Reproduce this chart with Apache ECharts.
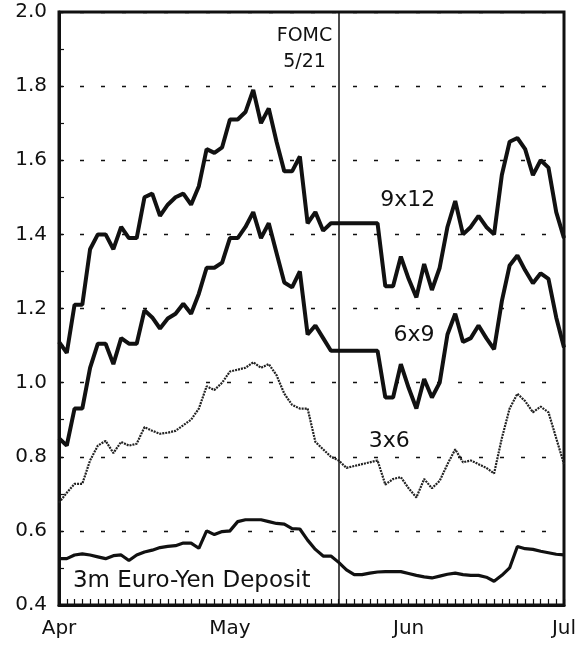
<!DOCTYPE html>
<html>
<head>
<meta charset="utf-8">
<style>
  html, body { margin: 0; padding: 0; background: #fff; }
  #chart { width: 581px; height: 645px; }
</style>
<script src="https://cdn.jsdelivr.net/npm/echarts@6/dist/echarts.min.js"></script>
</head>
<body>
<div id="chart"></div>
<script>
// x = business day index: 0 = Apr 1, 22 = May 1, 45 = Jun 3, 65 = Jul 1
const monthNames = ['Apr', 'May', 'Jun', 'Jul'];
const monthStarts = [0, 22, 45, 65];
const fomcDay = 36; // 5/21

const rate9x12 = [1.11, 1.08, 1.21, 1.21, 1.36, 1.40, 1.40, 1.36, 1.42, 1.39,
    1.39, 1.50, 1.51, 1.45, 1.48, 1.50, 1.51, 1.48, 1.53, 1.63,
    1.62, 1.635, 1.71, 1.71, 1.73, 1.79, 1.70, 1.74, 1.65, 1.57,
    1.57, 1.61, 1.43, 1.46, 1.41, 1.43, 1.43, 1.43, 1.43, 1.43,
    1.43, 1.43, 1.26, 1.26, 1.34, 1.28, 1.23, 1.32, 1.25, 1.31,
    1.42, 1.49, 1.40, 1.42, 1.45, 1.42, 1.40, 1.56, 1.65, 1.66,
    1.63, 1.56, 1.60, 1.58, 1.46, 1.39];

const rate6x9 = [0.85, 0.83, 0.93, 0.93, 1.04, 1.105, 1.105, 1.05, 1.12, 1.105,
    1.105, 1.195, 1.176, 1.146, 1.173, 1.186, 1.213, 1.186, 1.24, 1.31,
    1.31, 1.324, 1.39, 1.39, 1.42, 1.46, 1.39, 1.43, 1.35, 1.27,
    1.257, 1.30, 1.13, 1.154, 1.12, 1.086, 1.086, 1.086, 1.086, 1.086,
    1.086, 1.086, 0.96, 0.96, 1.05, 0.986, 0.93, 1.01, 0.96, 1.0,
    1.13, 1.186, 1.11, 1.12, 1.154, 1.12, 1.09, 1.22, 1.316, 1.343,
    1.303, 1.268, 1.295, 1.28, 1.176, 1.095];

const rate3x6 = [0.676, 0.703, 0.727, 0.727, 0.79, 0.83, 0.843, 0.81, 0.84, 0.83,
    0.835, 0.88, 0.87, 0.862, 0.865, 0.87, 0.885, 0.90, 0.93, 0.99,
    0.98, 1.0, 1.03, 1.035, 1.04, 1.055, 1.04, 1.05, 1.02, 0.97,
    0.94, 0.93, 0.93, 0.84, 0.82, 0.80, 0.79, 0.77, 0.775, 0.78,
    0.785, 0.79, 0.725, 0.74, 0.745, 0.715, 0.69, 0.74, 0.715, 0.735,
    0.78, 0.82, 0.785, 0.79, 0.78, 0.77, 0.755, 0.85, 0.93, 0.97,
    0.95, 0.92, 0.935, 0.92, 0.85, 0.78];

const deposit3m = [0.525, 0.525, 0.535, 0.538, 0.535, 0.53, 0.525, 0.533, 0.535, 0.52,
    0.535, 0.543, 0.548, 0.555, 0.558, 0.56, 0.567, 0.567, 0.553, 0.60,
    0.59, 0.598, 0.60, 0.625, 0.63, 0.63, 0.63, 0.625, 0.62, 0.618,
    0.606, 0.605, 0.575, 0.55, 0.532, 0.532, 0.515, 0.495, 0.482, 0.482,
    0.486, 0.489, 0.49, 0.49, 0.49, 0.485, 0.48, 0.476, 0.473, 0.478,
    0.483, 0.486, 0.482, 0.48, 0.48, 0.475, 0.464, 0.48, 0.50, 0.558,
    0.552, 0.55, 0.545, 0.541, 0.537, 0.535];

const FONT = 'DejaVu Sans';

function toPoints(values) {
    return values.map((v, i) => [i, v]);
}

function textMark(name, x, y, extra) {
    return {
        name: name,
        coord: [x, y],
        symbolSize: 0,
        label: Object.assign({
            show: true,
            position: 'inside',
            formatter: '{b}',
            color: '#111',
            fontFamily: FONT,
            fontSize: 22
        }, extra || {})
    };
}

function lineSeries(name, values, width, type, color, marks) {
    return {
        name: name,
        type: 'line',
        data: toPoints(values),
        symbol: 'none',
        silent: true,
        lineStyle: { color: color, width: width, type: type },
        markPoint: marks ? { silent: true, symbol: 'circle', data: marks } : undefined
    };
}

const chart = echarts.init(document.getElementById('chart'), null, { renderer: 'canvas' });

const series = [
    lineSeries('3m Euro-Yen Deposit', deposit3m, 3.2, 'solid', '#111', [
        textMark('3m Euro-Yen Deposit', 1.8, 0.465, { align: 'left', fontSize: 23 })
    ]),
    lineSeries('3x6', rate3x6, 2.2, [2, 1], '#222', [
        textMark('3x6', 42.5, 0.843)
    ]),
    lineSeries('6x9', rate6x9, 4, 'solid', '#111', [
        textMark('6x9', 45.7, 1.127)
    ]),
    lineSeries('9x12', rate9x12, 4, 'solid', '#111', [
        textMark('9x12', 44.9, 1.492),
        textMark('FOMC\n5/21', 31.6, 1.9, { fontSize: 19, lineHeight: 26 })
    ])
];

series[3].markLine = {
    silent: true,
    symbol: ['none', 'none'],
    label: { show: false },
    lineStyle: { color: '#111', width: 1.5, type: 'solid' },
    data: [{ xAxis: fomcDay }]
};

chart.setOption({
    animation: false,
    backgroundColor: '#fff',
    grid: {
        left: 59, right: 17, top: 12, bottom: 40,
        show: true,
        borderColor: '#111',
        borderWidth: 3
    },
    xAxis: {
        type: 'value',
        min: 0,
        max: 65,
        interval: 1,
        axisLine: { lineStyle: { color: '#111', width: 3 } },
        axisTick: { inside: true, length: 6, lineStyle: { color: '#111', width: 1.2 } },
        splitLine: { show: false },
        axisLabel: {
            color: '#111',
            fontFamily: FONT,
            fontSize: 20,
            margin: 14,
            showMinLabel: true,
            showMaxLabel: true,
            formatter: v => {
                const k = monthStarts.indexOf(Math.round(v));
                return k >= 0 && Math.abs(v - monthStarts[k]) < 1e-6 ? monthNames[k] : '';
            }
        }
    },
    yAxis: {
        type: 'value',
        min: 0.4,
        max: 2.0,
        interval: 0.2,
        axisLine: { show: true, lineStyle: { color: '#111', width: 3 } },
        axisTick: { show: true, inside: true, length: 5, lineStyle: { color: '#111', width: 1.2 } },
        minorTick: { show: true, splitNumber: 2, length: 5, lineStyle: { color: '#111', width: 1.2 } },
        splitLine: { show: true, lineStyle: { color: '#111', width: 1.3, type: [4, 17] } },
        axisLabel: {
            color: '#111',
            fontFamily: FONT,
            fontSize: 20,
            margin: 12,
            padding: [5, 0, 0, 0],
            formatter: v => v.toFixed(1)
        }
    },
    series: series
});
</script>
</body>
</html>
